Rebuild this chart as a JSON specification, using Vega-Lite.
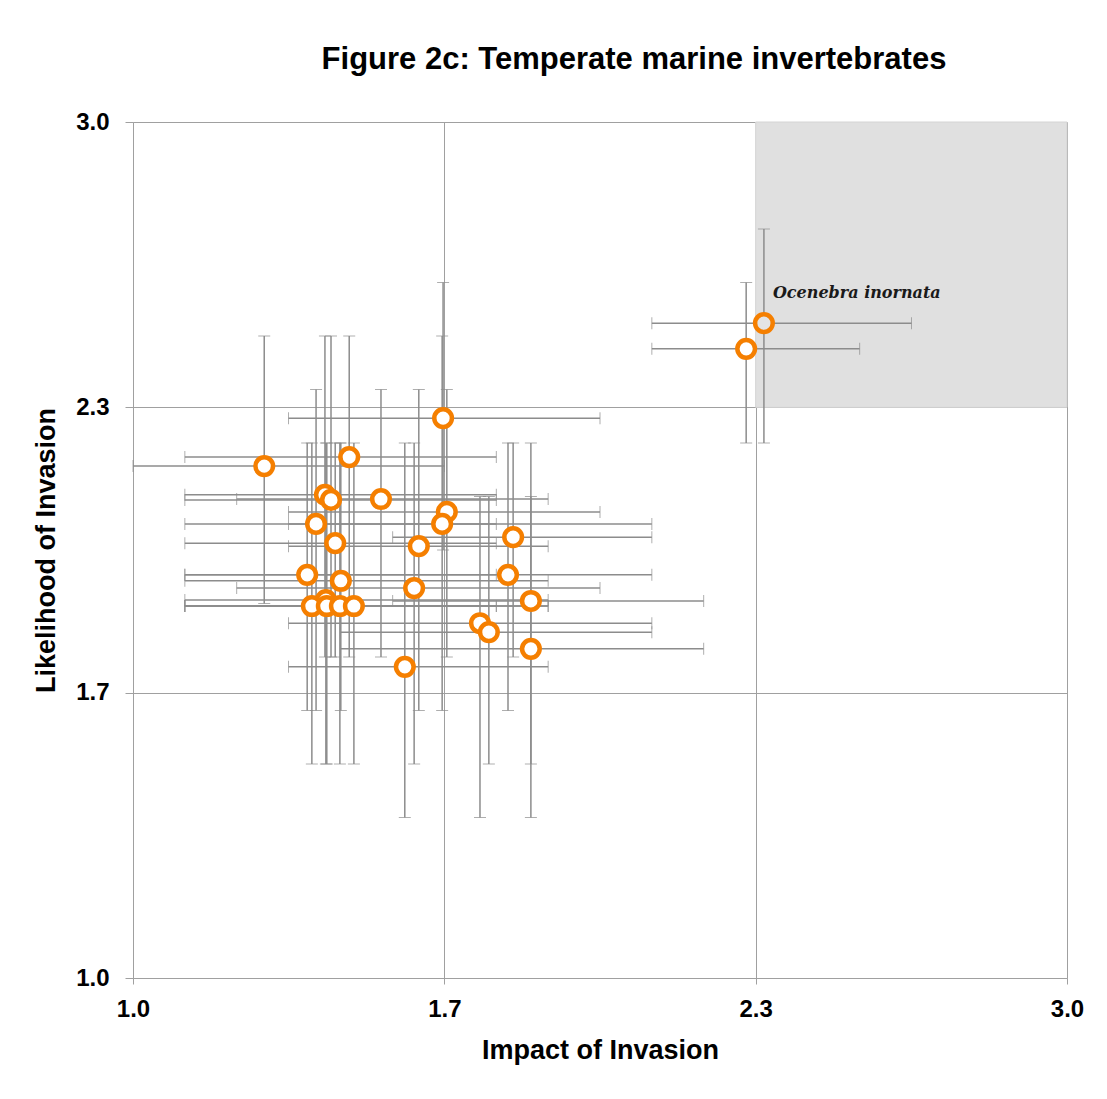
{
  "$schema": "https://vega.github.io/schema/vega-lite/v6.json",
  "width": 934,
  "height": 856,
  "autosize": {"type": "none"},
  "padding": {"left": 133, "top": 122, "right": 40, "bottom": 121},
  "background": "white",
  "config": {
    "view": {"stroke": null},
    "font": "Liberation Sans"
  },
  "title": {
    "text": "Figure 2c: Temperate marine invertebrates",
    "font": "Liberation Sans",
    "fontSize": 31,
    "fontWeight": "bold",
    "color": "#000000",
    "anchor": "middle",
    "dx": 34,
    "offset": 34
  },
  "datasets": {
    "zone": [{"x1": 2.33333, "x2": 3.0, "y1": 2.33333, "y2": 3.0}],
    "species": [
      {"label": "Ocenebra inornata", "impact": 2.351, "likelihood": 2.530, "ilo": 2.111, "ihi": 2.667, "llo": 2.25, "lhi": 2.75},
      {"label": "", "impact": 2.313, "likelihood": 2.470, "ilo": 2.111, "ihi": 2.556, "llo": 2.25, "lhi": 2.625},
      {"label": "", "impact": 1.664, "likelihood": 2.308, "ilo": 1.333, "ihi": 2.0, "llo": 2.0, "lhi": 2.625},
      {"label": "", "impact": 1.281, "likelihood": 2.196, "ilo": 1.0, "ihi": 1.667, "llo": 1.875, "lhi": 2.5},
      {"label": "", "impact": 1.463, "likelihood": 2.217, "ilo": 1.111, "ihi": 1.778, "llo": 1.75, "lhi": 2.5},
      {"label": "", "impact": 1.411, "likelihood": 2.129, "ilo": 1.111, "ihi": 1.778, "llo": 1.75, "lhi": 2.5},
      {"label": "", "impact": 1.424, "likelihood": 2.117, "ilo": 1.111, "ihi": 1.778, "llo": 1.75, "lhi": 2.5},
      {"label": "", "impact": 1.531, "likelihood": 2.119, "ilo": 1.222, "ihi": 1.889, "llo": 1.75, "lhi": 2.375},
      {"label": "", "impact": 1.392, "likelihood": 2.061, "ilo": 1.111, "ihi": 1.778, "llo": 1.625, "lhi": 2.375},
      {"label": "", "impact": 1.433, "likelihood": 2.016, "ilo": 1.111, "ihi": 1.778, "llo": 1.75, "lhi": 2.25},
      {"label": "", "impact": 1.672, "likelihood": 2.089, "ilo": 1.333, "ihi": 2.0, "llo": 1.75, "lhi": 2.375},
      {"label": "", "impact": 1.662, "likelihood": 2.061, "ilo": 1.333, "ihi": 2.111, "llo": 1.625, "lhi": 2.5},
      {"label": "", "impact": 1.612, "likelihood": 2.009, "ilo": 1.333, "ihi": 1.889, "llo": 1.625, "lhi": 2.375},
      {"label": "", "impact": 1.814, "likelihood": 2.030, "ilo": 1.556, "ihi": 2.111, "llo": 1.75, "lhi": 2.25},
      {"label": "", "impact": 1.373, "likelihood": 1.942, "ilo": 1.111, "ihi": 1.778, "llo": 1.625, "lhi": 2.25},
      {"label": "", "impact": 1.445, "likelihood": 1.928, "ilo": 1.111, "ihi": 1.889, "llo": 1.625, "lhi": 2.25},
      {"label": "", "impact": 1.602, "likelihood": 1.911, "ilo": 1.222, "ihi": 2.0, "llo": 1.5, "lhi": 2.25},
      {"label": "", "impact": 1.803, "likelihood": 1.942, "ilo": 1.111, "ihi": 2.111, "llo": 1.625, "lhi": 2.25},
      {"label": "", "impact": 1.852, "likelihood": 1.881, "ilo": 1.556, "ihi": 2.222, "llo": 1.5, "lhi": 2.25},
      {"label": "", "impact": 1.413, "likelihood": 1.883, "ilo": 1.111, "ihi": 1.889, "llo": 1.5, "lhi": 2.25},
      {"label": "", "impact": 1.383, "likelihood": 1.869, "ilo": 1.111, "ihi": 1.778, "llo": 1.5, "lhi": 2.25},
      {"label": "", "impact": 1.415, "likelihood": 1.869, "ilo": 1.111, "ihi": 1.778, "llo": 1.5, "lhi": 2.25},
      {"label": "", "impact": 1.443, "likelihood": 1.869, "ilo": 1.111, "ihi": 1.889, "llo": 1.5, "lhi": 2.25},
      {"label": "", "impact": 1.473, "likelihood": 1.869, "ilo": 1.111, "ihi": 1.889, "llo": 1.5, "lhi": 2.25},
      {"label": "", "impact": 1.743, "likelihood": 1.829, "ilo": 1.333, "ihi": 2.111, "llo": 1.375, "lhi": 2.125},
      {"label": "", "impact": 1.762, "likelihood": 1.808, "ilo": 1.444, "ihi": 2.111, "llo": 1.5, "lhi": 2.125},
      {"label": "", "impact": 1.852, "likelihood": 1.769, "ilo": 1.444, "ihi": 2.222, "llo": 1.375, "lhi": 2.125},
      {"label": "", "impact": 1.582, "likelihood": 1.727, "ilo": 1.333, "ihi": 1.889, "llo": 1.375, "lhi": 2.25}
    ]
  },
  "resolve": {"scale": {"x": "shared", "y": "shared"}},
  "layer": [
    {
      "data": {"name": "zone"},
      "mark": {"type": "rect", "fill": "#e0e0e0", "stroke": "#d4d4d4", "strokeWidth": 1},
      "encoding": {
        "x": {"field": "x1", "type": "quantitative", "scale": {"domain": [1, 3], "nice": false, "zero": false},
          "axis": {
            "title": "Impact of Invasion",
            "values": [1, 1.666667, 2.333333, 3],
            "format": ".1f",
            "labelFlush": false,
            "grid": true, "gridColor": "#a0a0a0", "gridWidth": 1,
            "domainColor": "#a0a0a0", "domainWidth": 1,
            "tickColor": "#a0a0a0", "tickSize": 6,
            "labelFont": "Liberation Sans", "labelFontSize": 24, "labelFontWeight": "bold", "labelColor": "#000000", "labelPadding": 13,
            "titleFont": "Liberation Sans", "titleFontSize": 27, "titleFontWeight": "bold", "titleColor": "#000000", "titlePadding": 16
          }},
        "x2": {"field": "x2"},
        "y": {"field": "y1", "type": "quantitative", "scale": {"domain": [1, 3], "nice": false, "zero": false},
          "axis": {
            "title": "Likelihood of Invasion",
            "values": [1, 1.666667, 2.333333, 3],
            "format": ".1f",
            "labelFlush": false,
            "grid": true, "gridColor": "#a0a0a0", "gridWidth": 1,
            "domainColor": "#a0a0a0", "domainWidth": 1,
            "tickColor": "#a0a0a0", "tickSize": 8,
            "labelFont": "Liberation Sans", "labelFontSize": 24, "labelFontWeight": "bold", "labelColor": "#000000", "labelPadding": 16,
            "titleFont": "Liberation Sans", "titleFontSize": 27, "titleFontWeight": "bold", "titleColor": "#000000", "titlePadding": 15
          }},
        "y2": {"field": "y2"}
      }
    },
    {
      "data": {"name": "species"},
      "mark": {"type": "errorbar", "ticks": {"size": 12, "color": "#8c8c8c", "strokeWidth": 1.5}, "rule": {"color": "#8c8c8c", "strokeWidth": 1.5}},
      "encoding": {
        "x": {"field": "ilo", "type": "quantitative", "title": "Impact of Invasion"},
        "x2": {"field": "ihi"},
        "y": {"field": "likelihood", "type": "quantitative", "title": "Likelihood of Invasion"}
      }
    },
    {
      "data": {"name": "species"},
      "mark": {"type": "errorbar", "ticks": {"size": 12, "color": "#8c8c8c", "strokeWidth": 1.5}, "rule": {"color": "#8c8c8c", "strokeWidth": 1.5}},
      "encoding": {
        "y": {"field": "llo", "type": "quantitative", "title": "Likelihood of Invasion"},
        "y2": {"field": "lhi"},
        "x": {"field": "impact", "type": "quantitative", "title": "Impact of Invasion"}
      }
    },
    {
      "data": {"name": "species"},
      "mark": {"type": "point", "shape": "circle", "filled": false, "size": 310, "strokeWidth": 4.5, "stroke": "#f57f00", "opacity": 1},
      "encoding": {
        "x": {"field": "impact", "type": "quantitative", "title": "Impact of Invasion"},
        "y": {"field": "likelihood", "type": "quantitative", "title": "Likelihood of Invasion"},
        "fill": {"condition": {"test": "datum.label != ''", "value": "#e4e4e4"}, "value": "#ffffff"},
        "fillOpacity": {"value": 1}
      }
    },
    {
      "data": {"name": "species"},
      "transform": [{"filter": "datum.label != ''"}],
      "mark": {"type": "text", "align": "left", "baseline": "alphabetic", "dx": 9, "dy": -25, "font": "DejaVu Serif", "fontSize": 16, "fontStyle": "italic", "fontWeight": "bold", "color": "#1a1a1a"},
      "encoding": {
        "x": {"field": "impact", "type": "quantitative", "title": "Impact of Invasion"},
        "y": {"field": "likelihood", "type": "quantitative", "title": "Likelihood of Invasion"},
        "text": {"field": "label"}
      }
    }
  ]
}
